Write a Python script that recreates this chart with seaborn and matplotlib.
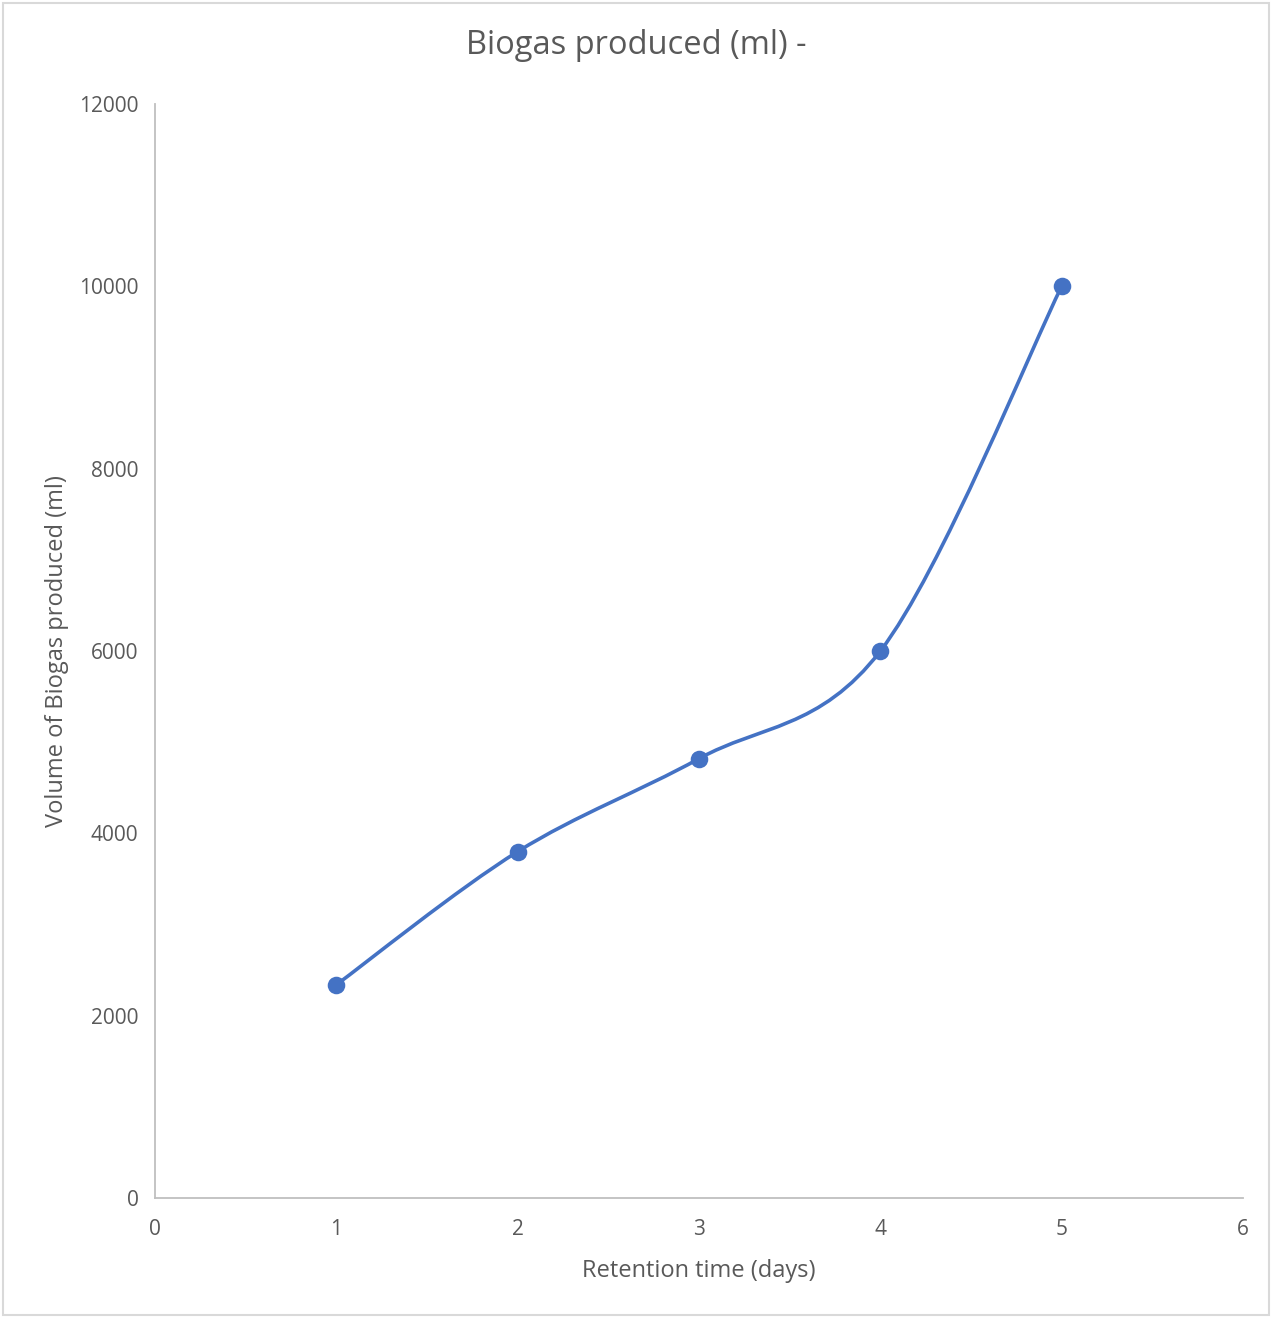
import numpy as np
import pandas as pd
import matplotlib.pyplot as plt
import seaborn as sns
from matplotlib.path import Path
from matplotlib.patches import PathPatch, Rectangle

sns.set_style("white")
plt.rcParams['font.family'] = ['Open Sans', 'DejaVu Sans']

days = [1, 2, 3, 4, 5]
biogas_ml = [2340, 3800, 4820, 6000, 10000]

df = pd.DataFrame({"days": days, "biogas": biogas_ml})

blue = "#4472C4"
text_col = "#595959"
axis_col = "#BFBFBF"

fig = plt.figure(figsize=(12.72, 13.18), dpi=100)
ax = fig.add_axes([0.1219, 0.0910, 0.8553, 0.8301])

# smoothed line (Excel-like Catmull-Rom as cubic Bezier through the points)
pts = df[["days", "biogas"]].to_numpy(dtype=float)
ext = np.vstack([pts[0], pts, pts[-1]])
verts = [tuple(pts[0])]
codes = [Path.MOVETO]
for i in range(1, len(ext) - 2):
    p0, p1, p2, p3 = ext[i - 1], ext[i], ext[i + 1], ext[i + 2]
    c1 = p1 + (p2 - p0) / 6
    c2 = p2 - (p3 - p1) / 6
    verts += [tuple(c1), tuple(c2), tuple(p2)]
    codes += [Path.CURVE4] * 3
ax.add_patch(PathPatch(Path(verts, codes), facecolor="none", edgecolor=blue,
                       lw=2.6, capstyle="round", zorder=2))

sns.scatterplot(data=df, x="days", y="biogas", ax=ax, color=blue, s=160,
                edgecolor=blue, linewidth=0, zorder=3, legend=False)

ax.set_xlim(0, 6)
ax.set_ylim(0, 12000)
ax.set_xticks(range(0, 7))
ax.set_yticks(range(0, 12001, 2000))
ax.tick_params(axis="both", length=0, labelsize=15, colors=text_col, pad=15)
ax.tick_params(axis="y", pad=12)
for s in ["top", "right"]:
    ax.spines[s].set_visible(False)
for s in ["left", "bottom"]:
    ax.spines[s].set_color(axis_col)
    ax.spines[s].set_linewidth(1.3)

ax.set_xlabel("Retention time (days)", fontsize=17, color=text_col, labelpad=14)
ax.set_ylabel("Volume of Biogas produced (ml)", fontsize=17, color=text_col, labelpad=7)
fig.suptitle("Biogas produced (ml) -", fontsize=23.5, color=text_col, y=0.978)

fig.add_artist(Rectangle((0.0025, 0.002), 0.995, 0.996, transform=fig.transFigure,
                         facecolor="none", edgecolor="#D9D9D9", lw=1.5))

fig.savefig("out.png", dpi=100)
